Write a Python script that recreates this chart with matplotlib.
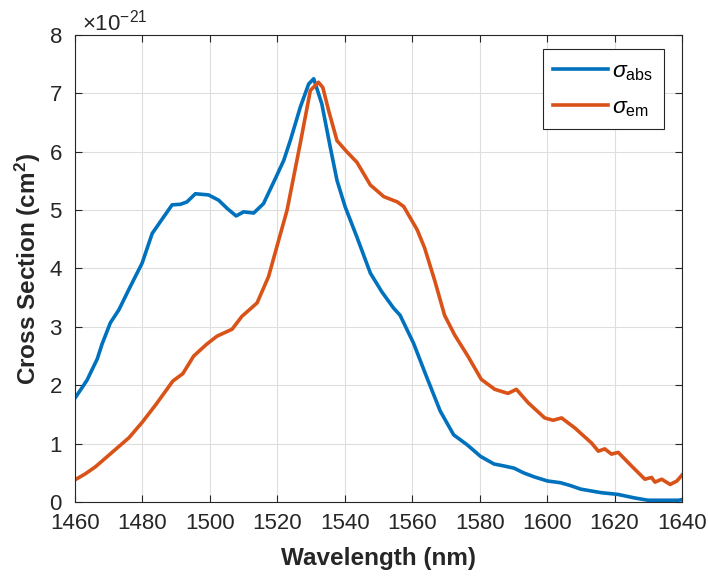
import matplotlib
matplotlib.use('Agg')
import matplotlib.pyplot as plt
from matplotlib.ticker import ScalarFormatter

plt.rcParams['font.family'] = ['Liberation Sans', 'DejaVu Sans']
plt.rcParams['mathtext.fontset'] = 'custom'
plt.rcParams['mathtext.rm'] = 'Liberation Sans'
plt.rcParams['mathtext.it'] = 'Liberation Sans:italic'
plt.rcParams['mathtext.bf'] = 'Liberation Sans:bold'

# Sections efficaces (unites de 1e-21 cm^2)
abs_wl = [1460, 1462, 1463.6, 1466.6, 1468, 1470.5, 1473, 1476.4, 1479.9, 1482.9,
          1485.3, 1488.8, 1491.3, 1493.2, 1495.7, 1499.6, 1502.6, 1505.1, 1507.8, 1510,
          1513, 1515.9, 1519.5, 1521.9, 1523.9, 1526.8, 1529.3, 1530.8, 1533.2, 1535.7,
          1537.7, 1540.1, 1543.6, 1547.6, 1551, 1554.5, 1556.4, 1560.4, 1564.3, 1568.3,
          1572.3, 1576.3, 1580.3, 1584.3, 1587, 1590.2, 1593, 1596.2, 1600.1, 1604,
          1607, 1610, 1613, 1616, 1621, 1625.9, 1629.9, 1635, 1639, 1640]
abs_val = [1.78, 1.95, 2.09, 2.45, 2.7, 3.07, 3.29, 3.69, 4.09, 4.6,
           4.8, 5.09, 5.1, 5.14, 5.28, 5.26, 5.17, 5.03, 4.9, 4.97,
           4.95, 5.11, 5.55, 5.85, 6.2, 6.76, 7.16, 7.25, 6.82, 6.08,
           5.51, 5.06, 4.54, 3.92, 3.6, 3.32, 3.2, 2.72, 2.14, 1.56,
           1.15, 0.98, 0.78, 0.65, 0.62, 0.58, 0.5, 0.43, 0.36, 0.33,
           0.28, 0.22, 0.19, 0.16, 0.13, 0.07, 0.03, 0.03, 0.03, 0.04]

em_wl = [1460, 1463, 1466, 1470, 1473, 1476, 1480, 1484, 1489, 1492,
         1495.2, 1499, 1502.1, 1506.6, 1509.5, 1514, 1517.4, 1520, 1522.9, 1526.8,
         1529.8, 1532.2, 1533.5, 1535.2, 1537.7, 1540.6, 1543.6, 1547.6, 1551.6, 1555.6,
         1557.5, 1561.5, 1563.7, 1566.7, 1569.6, 1572.6, 1576.5, 1580.5, 1584.5, 1588.4,
         1590.9, 1594.4, 1599.3, 1601.8, 1604.3, 1608.2, 1613.2, 1615.2, 1617.1, 1619.1,
         1621.1, 1625, 1629, 1631, 1632, 1634, 1636.5, 1638.5, 1640]
em_val = [0.38, 0.48, 0.6, 0.8, 0.95, 1.1, 1.37, 1.67, 2.07, 2.2,
          2.5, 2.7, 2.84, 2.96, 3.18, 3.41, 3.86, 4.4, 5.0, 6.14,
          7.05, 7.19, 7.1, 6.71, 6.19, 6.0, 5.82, 5.43, 5.23, 5.14,
          5.06, 4.66, 4.35, 3.79, 3.2, 2.86, 2.5, 2.1, 1.93, 1.86,
          1.93, 1.7, 1.44, 1.4, 1.44, 1.27, 1.01, 0.87, 0.91, 0.82,
          0.85, 0.62, 0.39, 0.42, 0.34, 0.39, 0.3, 0.36, 0.46]

x_ticks = [1460, 1480, 1500, 1520, 1540, 1560, 1580, 1600, 1620, 1640]
y_ticks = [0, 1, 2, 3, 4, 5, 6, 7, 8]

scale = 1e-21
txt_col = '#262626'

fig = plt.figure(figsize=(7.08, 5.78), dpi=100)
ax = fig.add_axes([0.1059, 0.1315, 0.8573, 0.808])

ax.plot(abs_wl, [v * scale for v in abs_val], color='#0072BD', lw=2.6,
        label=r'$\sigma_{\mathrm{abs}}$')
ax.plot(em_wl, [v * scale for v in em_val], color='#D95319', lw=2.6,
        label=r'$\sigma_{\mathrm{em}}$')

ax.set_xlim(1460, 1640)
ax.set_ylim(0, 8 * scale)
ax.set_xticks(x_ticks)
ax.set_yticks([t * scale for t in y_ticks])

fmt = ScalarFormatter(useMathText=True)
fmt.set_powerlimits((0, 0))
ax.yaxis.set_major_formatter(fmt)
ax.yaxis.get_offset_text().set_fontsize(16)
ax.yaxis.get_offset_text().set_color(txt_col)
ax.yaxis.get_offset_text().set_x(0.012)

ax.grid(True, color='#dedede', lw=0.8)
ax.tick_params(direction='in', length=5, width=0.8, top=True, right=True,
               labelsize=16, colors=txt_col)
ax.tick_params(axis='x', pad=8)
ax.tick_params(axis='y', pad=9)
for s in ax.spines.values():
    s.set_color(txt_col)
    s.set_linewidth(0.8)

ax.set_xlabel('Wavelength (nm)', fontsize=17.5, fontweight='bold', color=txt_col, labelpad=9)
ax.set_ylabel(r'Cross Section (cm$^{\mathbf{2}}$)', fontsize=17.5, fontweight='bold',
              color=txt_col, labelpad=4)

leg = ax.legend(loc='upper right', bbox_to_anchor=(0.97, 0.97), borderaxespad=0,
                fontsize=16.5, handlelength=2.4, handletextpad=0.2, fancybox=False,
                framealpha=1, edgecolor=txt_col, borderpad=0.45, labelspacing=0.5)
leg.get_frame().set_linewidth(0.8)

fig.savefig('out.png', dpi=100, facecolor='white')
